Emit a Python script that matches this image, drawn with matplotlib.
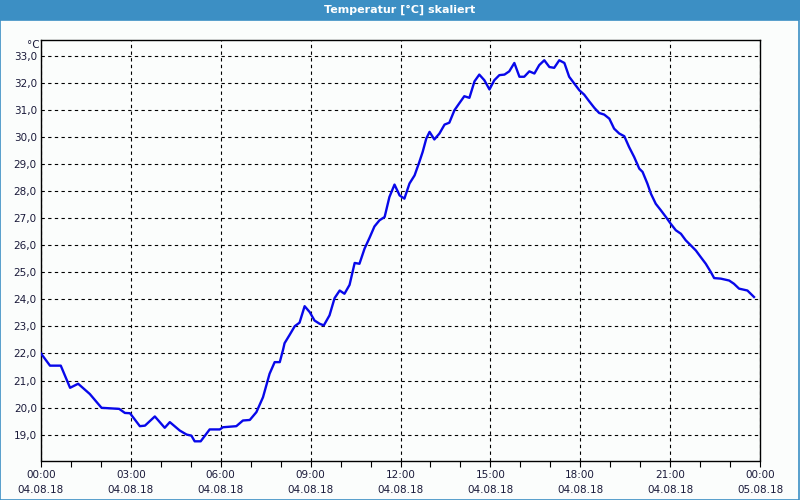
import matplotlib
matplotlib.use("Agg")
import matplotlib.pyplot as plt
from matplotlib.patches import Rectangle

# Messwerte: Stunden seit 04.08.18 00:00 und Temperatur in °C
hours = [
    # 00:00 - 08:00
    0.0, 0.3, 0.66, 0.97, 1.24, 1.63, 2.02, 2.61, 2.8, 2.97,
    3.3, 3.47, 3.8, 4.13, 4.3, 4.63, 4.86, 5.02, 5.13, 5.33,
    5.63, 5.97, 6.07, 6.52, 6.74, 6.97, 7.19, 7.41, 7.63, 7.8,
    7.97,
    # 08:00 - 13:00
    8.08, 8.13, 8.3, 8.47, 8.63, 8.8, 8.97, 9.13, 9.3, 9.44,
    9.63, 9.8, 9.97, 10.13, 10.3, 10.47, 10.63, 10.8, 10.97, 11.13,
    11.3, 11.47, 11.63, 11.8, 11.97, 12.13, 12.3, 12.47, 12.63, 12.74,
    12.86, 12.97, 13.13,
    # 13:00 - 20:00
    13.3, 13.47, 13.63, 13.8, 13.97, 14.13, 14.3, 14.47, 14.63, 14.8,
    14.97, 15.13, 15.3, 15.47, 15.63, 15.8, 15.97, 16.13, 16.3, 16.47,
    16.63, 16.8, 16.97, 17.13, 17.3, 17.47, 17.63, 17.8, 17.97, 18.13,
    18.3, 18.47, 18.63, 18.8, 18.97, 19.13, 19.3, 19.47, 19.63, 19.8,
    19.97,
    # 20:00 - 24:00
    20.08, 20.24, 20.36, 20.52, 20.69, 20.86, 21.02, 21.19, 21.36, 21.52,
    21.69, 21.86, 22.02, 22.19, 22.36, 22.47, 22.69, 22.97, 23.13, 23.3,
    23.58, 23.8,
]
temps = [
    # 00:00 - 08:00
    22.0, 21.55, 21.55, 20.73, 20.88, 20.5, 19.99, 19.95, 19.8, 19.79,
    19.31, 19.33, 19.67, 19.25, 19.46, 19.15, 19.0, 18.96, 18.75, 18.75,
    19.19, 19.19, 19.27, 19.31, 19.52, 19.54, 19.83, 20.38, 21.25, 21.68,
    21.68,
    # 08:00 - 13:00
    22.14, 22.38, 22.69, 23.01, 23.14, 23.75, 23.53, 23.22, 23.1, 23.04,
    23.41, 24.05, 24.33, 24.21, 24.54, 25.35, 25.32, 25.88, 26.29, 26.7,
    26.93, 27.05, 27.79, 28.25, 27.85, 27.73, 28.29, 28.59, 29.09, 29.46,
    29.95, 30.2, 29.92,
    # 13:00 - 20:00
    30.14, 30.47, 30.54, 31.0, 31.27, 31.52, 31.46, 32.07, 32.32, 32.11,
    31.77, 32.11, 32.3, 32.32, 32.44, 32.75, 32.24, 32.24, 32.44, 32.36,
    32.67, 32.85, 32.6, 32.57, 32.85, 32.75, 32.24, 31.99, 31.74, 31.58,
    31.33, 31.09, 30.9, 30.84, 30.69, 30.32, 30.14, 30.04, 29.64, 29.27,
    28.84,
    # 20:00 - 24:00
    28.72, 28.29, 27.91, 27.54, 27.3, 27.05, 26.8, 26.56, 26.43, 26.19,
    26.0, 25.81, 25.57, 25.32, 25.01, 24.79, 24.77, 24.7, 24.58, 24.4,
    24.33, 24.09,
]

x_ticks = [0, 3, 6, 9, 12, 15, 18, 21, 24]
x_labels = ["00:00\n04.08.18", "03:00\n04.08.18", "06:00\n04.08.18",
            "09:00\n04.08.18", "12:00\n04.08.18", "15:00\n04.08.18",
            "18:00\n04.08.18", "21:00\n04.08.18", "00:00\n05.08.18"]
y_ticks = [19, 20, 21, 22, 23, 24, 25, 26, 27, 28, 29, 30, 31, 32, 33]
y_labels = [f"{v:.1f}".replace(".", ",") for v in y_ticks]

title = "Temperatur [°C] skaliert"
bar_color = "#3c8fc4"
text_color = "#1a1a3a"

fig = plt.figure(figsize=(8, 5), dpi=100, facecolor="#fbfdfc")

# Titelleiste und Rahmen
fig.patches.append(Rectangle((0, 0.96), 1, 0.04, transform=fig.transFigure,
                             facecolor=bar_color, edgecolor="none", zorder=0))
fig.patches.append(Rectangle((0.0006, 0.001), 0.9982, 0.96, transform=fig.transFigure,
                             facecolor="none", edgecolor=bar_color, linewidth=1.2, zorder=0))
fig.text(0.5, 0.98, title, ha="center", va="center", color="white",
         fontsize=8, fontweight="bold")

ax = fig.add_axes([0.05125, 0.079, 0.89875, 0.841])
ax.set_facecolor("#fbfdfc")
ax.plot(hours, temps, color="#0808ea", linewidth=1.7, zorder=3)

ax.set_xlim(0, 24)
ax.set_ylim(18.04, 33.6)
ax.set_xticks(x_ticks)
ax.set_xticklabels(x_labels, fontsize=7.5, color=text_color, linespacing=1.55)
ax.set_xticks(range(0, 25), minor=True)
ax.set_yticks(y_ticks)
ax.set_yticklabels(y_labels, fontsize=7.5, color=text_color)

ax.tick_params(axis="x", which="both", direction="out", length=4, width=0.8, pad=3)
ax.tick_params(axis="y", length=0, pad=3)
ax.grid(True, which="major", color="black", linestyle=(0, (3, 3)), linewidth=0.8)
for s in ax.spines.values():
    s.set_color("black")
    s.set_linewidth(1.0)

fig.text(0.049, 0.909, "°C", ha="right", va="center", fontsize=7.5, color=text_color)

fig.savefig("out.png", dpi=100, facecolor=fig.get_facecolor())
